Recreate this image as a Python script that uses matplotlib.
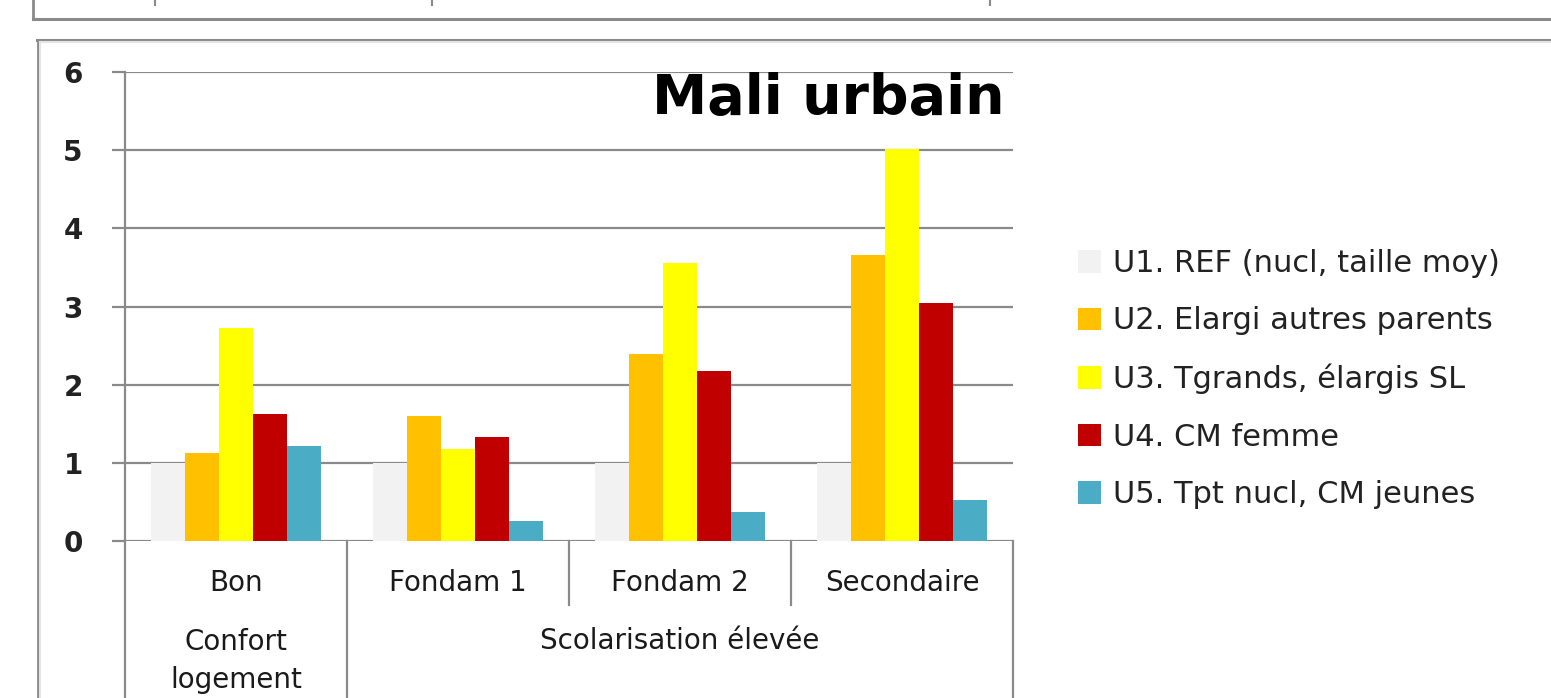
import numpy as np
import matplotlib
matplotlib.use("Agg")
import matplotlib.pyplot as plt
from matplotlib.lines import Line2D

# data
categories = ["Bon", "Fondam 1", "Fondam 2", "Secondaire"]
groups = [("Confort\nlogement", 0, 1), ("Scolarisation élevée", 1, 4)]
series = ["U1. REF (nucl, taille moy)", "U2. Elargi autres parents",
          "U3. Tgrands, élargis SL", "U4. CM femme", "U5. Tpt nucl, CM jeunes"]
u1 = [1.00, 1.00, 1.00, 1.00]
u2 = [1.12, 1.60, 2.39, 3.66]
u3 = [2.72, 1.18, 3.56, 5.01]
u4 = [1.63, 1.33, 2.18, 3.05]
u5 = [1.21, 0.25, 0.37, 0.52]
colors = ["#F2F2F2", "#FFC000", "#FFFF00", "#C00000", "#4BACC6"]

W, H = 1551, 698
fig = plt.figure(figsize=(W / 100, H / 100), dpi=100)

def fx(px):
    return px / W

def fy(py):
    return 1 - py / H

grey = "#8a8a8a"

# frames of the screenshot (previous chart bottom, this chart's border)
fig.add_artist(Line2D([fx(33), 1], [fy(19), fy(19)], color=grey, lw=2.2))
fig.add_artist(Line2D([fx(33), fx(33)], [fy(0), fy(19)], color=grey, lw=2))
for xt in [155, 432, 990]:
    fig.add_artist(Line2D([fx(xt), fx(xt)], [fy(0), fy(5)], color=grey, lw=1.5))
fig.add_artist(Line2D([fx(37), 1], [fy(40), fy(40)], color=grey, lw=2.2))
fig.add_artist(Line2D([fx(38), fx(38)], [fy(40), 0], color=grey, lw=2))
fig.add_artist(Line2D([fx(40), 1], [fy(42), fy(42)], color="#e4e4e4", lw=1.5))
fig.add_artist(Line2D([fx(40), fx(40)], [fy(42), 0], color="#e4e4e4", lw=1.5))

ax = fig.add_axes([fx(125), fy(541), fx(1013) - fx(125), fy(72) - fy(541)])

vals = [u1, u2, u3, u4, u5]
x = np.arange(len(categories))
group_w = 1 / 1.3
bw = group_w / len(series)
for i, (name, v) in enumerate(zip(series, vals)):
    off = -group_w / 2 + bw * (i + 0.5)
    ax.bar(x + off, v, width=bw, color=colors[i], label=name, zorder=3)

ax.set_xlim(-0.5, len(categories) - 0.5)
ax.set_ylim(0, 6)
ax.set_yticks(range(0, 7))
ax.set_axisbelow(True)
ax.yaxis.grid(True, color=grey, lw=1.6)
ax.set_xticks([])
for s in ["top", "right", "bottom"]:
    ax.spines[s].set_visible(False)
ax.spines["left"].set_color(grey)
ax.spines["left"].set_linewidth(1.6)
ax.tick_params(axis="y", length=9.5, width=1.6, color=grey, pad=21)
for lab in ax.get_yticklabels():
    lab.set_fontsize(20)
    lab.set_fontweight("bold")
    lab.set_color("#222222")

# multi-level category axis
ah = 541 - 72
def ay(py):
    return (541 - py) / ah

tr = ax.get_xaxis_transform()
lkw = dict(color=grey, lw=1.6, transform=tr, clip_on=False)
ax.plot([-0.5, -0.5], [0, ay(700)], **lkw)
ax.plot([len(categories) - 0.5] * 2, [0, ay(700)], **lkw)
for name, a, b in groups:
    if a > 0:
        ax.plot([a - 0.5, a - 0.5], [0, ay(700)], **lkw)
    for k in range(a + 1, b):
        ax.plot([k - 0.5, k - 0.5], [0, ay(605)], **lkw)
    ax.text((a + b - 1) / 2, ay(661 if "\n" in name else 641), name,
            transform=tr, ha="center", va="center", fontsize=20,
            color="#1a1a1a", linespacing=1.5)
for i, c in enumerate(categories):
    ax.text(i, ay(583), c, transform=tr, ha="center", va="center",
            fontsize=20, color="#1a1a1a")

fig.text(fx(1005), fy(99), "Mali urbain", ha="right", va="center",
         fontsize=40, fontweight="bold", color="black")

ax.legend(loc="upper left", bbox_to_anchor=(fx(1078), fy(249)),
          bbox_transform=fig.transFigure, frameon=False, fontsize=22,
          handlelength=0.75, handleheight=0.75, handletextpad=0.4,
          labelspacing=0.93, borderaxespad=0, borderpad=0,
          labelcolor="#222222")

fig.savefig("out.png", dpi=100)
